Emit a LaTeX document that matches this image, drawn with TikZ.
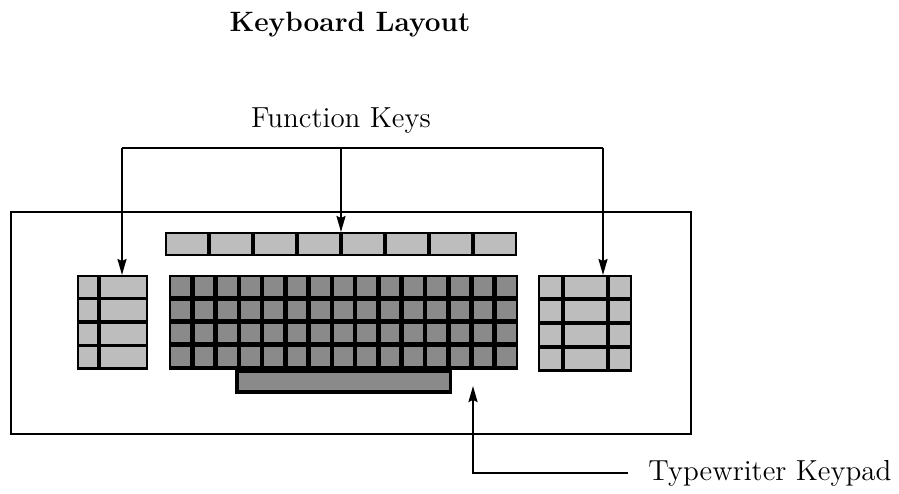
\documentclass[tikz,border=0pt]{standalone}
\usepackage{tikz}
\usetikzlibrary{arrows.meta,positioning,fit,calc}
\definecolor{keylight}{HTML}{BDBDBD}
\definecolor{keydark}{HTML}{8A8A8A}
\tikzset{frame/.style={draw=black,line width=1pt,inner sep=0pt,anchor=north west},
 arr/.style={-{Stealth[length=8pt,width=4.5pt,inset=1pt]},draw=black,line width=1pt},
 lbl/.style={font=\fontsize{14.5}{17}\selectfont},
 ttl/.style={font=\fontsize{14}{17}\selectfont\bfseries},
 pad/.style={inner sep=0pt,outer sep=0pt}}
\begin{document}
\begin{tikzpicture}[x=0.5pt,y=-0.5pt]
\useasboundingbox (0,0) rectangle (899,493);
\node[ttl] (title) at (350,25) {Keyboard Layout};
\node[lbl] (fnlabel) at (341,121) {Function Keys};
\node[frame,minimum width=340pt,minimum height=111pt] (board) at (10,211) {};
% function key bar
\fill (165,232) rectangle (517,256);
\foreach \i in {0,...,7}{\fill[keylight] ({165+\i*44+1.7},233.7) rectangle ({165+(\i+1)*44-1.7},254.3);}
\node[pad,fit={(165,232) (517,256)}] (fkeys) {};
% left and right keypads
\fill (77,275) rectangle (148,370);
\foreach \xa/\xb in {77/99,99/148}{\foreach \r in {0,...,3}{\fill[keylight] ({\xa+1.7},{275+\r*23.5+1.7}) rectangle ({\xb-1.7},{275+(\r+1)*23.5-1.7});}}
\node[pad,fit={(77,275) (148,370)}] (leftpad) {};
\fill (538,275) rectangle (632,372);
\foreach \xa/\xb in {538/563,563/608,608/632}{\foreach \r in {0,...,3}{\fill[keylight] ({\xa+1.7},{275+\r*24+1.7}) rectangle ({\xb-1.7},{275+(\r+1)*24-1.7});}}
\node[pad,fit={(538,275) (632,372)}] (rightpad) {};
% typewriter keys
\fill (169,275) rectangle (518,370);
\fill (235,368) rectangle (452,394);
\foreach \c in {0,...,14}{\foreach \r in {0,...,3}{\fill[keydark] ({169+\c*23.27+2.3},{275+\r*23.25+2.3}) rectangle ({169+(\c+1)*23.27-2.3},{275+(\r+1)*23.25-2.3});}}
\fill[keydark] (238.5,373) rectangle (448.5,390);
\node[pad,fit={(169,275) (518,370)}] (mainpad) {};
\node[pad,fit={(235,368) (452,394)}] (spacebar) {};
% connectors
\coordinate (fl) at (122,148);
\coordinate (fr) at (603,148);
\draw[line width=1pt] (fl) -- (fr);
\draw[arr] (fl) -- (fl |- leftpad.north);
\draw[arr] (fr) -- (fr |- rightpad.north);
\draw[arr] (fl -| fnlabel) -- (fnlabel |- fkeys.north);
\node[lbl,anchor=west,inner xsep=10pt] (twlabel) at (628,473) {Typewriter Keypad};
\coordinate (twbend) at (473,473);
\coordinate (twtip) at (473,386);
\draw[arr] (twlabel.west) -- (twbend) -- (twtip);
\end{tikzpicture}
\end{document}
